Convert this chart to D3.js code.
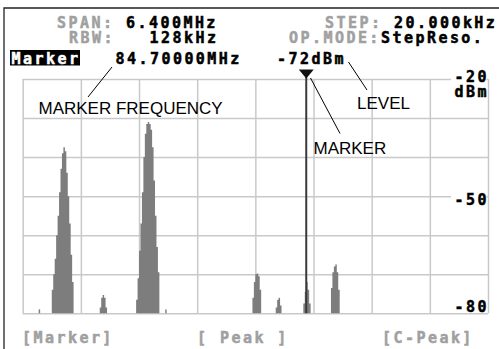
<!DOCTYPE html>
<html><head><meta charset="utf-8">
<script src="https://cdn.jsdelivr.net/npm/d3@7"></script>
<style>
html,body{margin:0;padding:0;background:#fff;}
svg{display:block;}
.lcd{font-family:"DejaVu Sans Mono",monospace;font-weight:bold;font-size:15px;letter-spacing:2.45px;white-space:pre;stroke-width:0.5px;}
.note{font-family:"Liberation Sans",Arial,sans-serif;font-size:17px;fill:#000;}
</style></head>
<body>
<script>
// ---- data ----
const centerMHz = 84.0;
const spanMHz = 6.4;
const stepMHz = 0.02;
const markerMHz = 84.7;
const markerLevel = -72;
const levelDomain = [-80, -20];
const levelGrid = [-20, -30, -40, -50, -60, -70, -80];
const levelLabels = [-20, -50, -80];
const freqGrid = [80.8, 81.6, 82.4, 83.2, 84.0, 84.8, 85.6, 86.4, 87.2];
const traceFreqs = [
  81.02,
  81.20, 81.22, 81.24, 81.26, 81.28, 81.30, 81.32, 81.34, 81.36, 81.38, 81.40, 81.42, 81.44, 81.46, 81.48,
  81.86, 81.88, 81.90, 81.92, 81.94,
  82.36, 82.38, 82.40, 82.42, 82.44, 82.46, 82.48, 82.50, 82.52, 82.54, 82.56, 82.58, 82.60, 82.62, 82.64, 82.66,
  82.76,
  83.96, 83.98, 84.00, 84.02, 84.04, 84.06,
  84.28, 84.30, 84.32, 84.34,
  84.66, 84.68, 84.70, 84.72, 84.74,
  85.04, 85.06, 85.08, 85.10, 85.12, 85.14
];
const traceLevels = [
  -79,
  -74, -70, -66, -60, -55, -49, -43, -39, -37.5, -38.5, -44, -50, -57, -65, -72,
  -78.5, -76, -75.3, -76, -78.5,
  -76.5, -71, -64, -57, -49, -40, -34, -31.5, -31, -31.5, -33, -37.5, -46, -55, -63, -69.5,
  -79,
  -76, -72, -70, -69.8, -70.5, -74,
  -78.5, -76.5, -76, -78,
  -77.5, -74.5, -72, -74, -77.5,
  -73.5, -69.5, -68, -67.5, -69.5, -74
];

// ---- layout ----
const W = 499, H = 349;
const plot = {l: 22.7, r: 488, t: 79, b: 313.3};
const svg = d3.select("body").append("svg").attr("width", W).attr("height", H);

const x = d3.scaleLinear().domain([centerMHz - spanMHz/2, centerMHz + spanMHz/2]).range([plot.l, plot.r]);
const y = d3.scaleLinear().domain(levelDomain).range([plot.b, plot.t]);

// outer frame
svg.append("path").attr("d", `M4,${H} V8 H${W}`).attr("fill","none").attr("stroke","#222").attr("stroke-width",1.3);

// grid
const grid = svg.append("g");
grid.append("g").attr("transform",`translate(${plot.l},0)`)
  .call(d3.axisLeft(y).tickValues(levelGrid).tickSize(-(plot.r-plot.l)).tickFormat(""))
  .call(g=>g.select(".domain").remove())
  .selectAll("line").attr("stroke","#c9c9c9").attr("stroke-width",1.5);

// trace: group contiguous steps, draw as stepped filled areas
const pts = traceFreqs.map((f,i)=>({f, v: traceLevels[i]}));
const groups = [];
pts.forEach((p,i)=>{
  if (i===0 || Math.abs(p.f - pts[i-1].f - stepMHz) > 1e-6) groups.push([]);
  groups[groups.length-1].push(p);
});
const area = d3.area().x(d=>x(d.f)).y0(y(levelDomain[0])).y1(d=>y(d.v)).curve(d3.curveStepAfter);

// right level labels (white backing)
const lab = svg.append("g").attr("class","lcd").attr("text-anchor","end");
levelLabels.forEach(v=>{
  const yy = v===-20 ? 81.5 : v===-50 ? 205 : 311.5;
  lab.append("rect").attr("x",451).attr("y",yy-11.5).attr("width",35.5).attr("height",v===-20?27:13).attr("fill","#fff").attr("stroke","none");
  lab.append("text").attr("x",489).attr("y",yy).attr("fill","#000").attr("stroke","#000").text(d3.format("d")(v).replace("−","-"));
});
lab.append("text").attr("x",489).attr("y",96.5).attr("fill","#000").attr("stroke","#000").text("dBm");

// vertical grid drawn after label backing so right border stays visible
grid.append("g").attr("transform",`translate(0,${plot.t})`)
  .call(d3.axisTop(x).tickValues(freqGrid).tickSize(-(plot.b-plot.t)).tickFormat(""))
  .call(g=>g.select(".domain").remove())
  .selectAll("line").attr("stroke","#c9c9c9").attr("stroke-width",1.5);
svg.node().appendChild(lab.node());

svg.append("g").selectAll("path").data(groups).join("path")
  .attr("d", g=>area(g.concat([{f: g[g.length-1].f + stepMHz, v: g[g.length-1].v}])))
  .attr("fill","#7d7d7d");

// marker line + triangle
const mx = x(markerMHz);
svg.append("line").attr("x1",mx).attr("x2",mx).attr("y1",76).attr("y2",plot.b)
  .attr("stroke","#3a3a3a").attr("stroke-width",2);
svg.append("path").attr("d",`M${mx-7.5},69.5 H${mx+7.5} L${mx},78.5 Z`).attr("fill","#111");

// header LCD texts
const gray = "#a0a0a0";
const hdr = svg.append("g").attr("class","lcd");
function t(xp, yp, s, col){ hdr.append("text").attr("x",xp).attr("y",yp).attr("fill",col).attr("stroke",col).text(s); }
t(57, 28, "SPAN:", gray); t(126, 28, "6.400MHz", "#000");
t(69, 43, "RBW:", gray);  t(149.5, 43, "128kHz", "#000");
hdr.append("rect").attr("x",10).attr("y",50).attr("width",70).attr("height",15.5).attr("fill","#000").attr("stroke","none");
t(11.5, 63.5, "Marker", "#fff");
t(115.5, 63.5, "84.70000MHz", "#000");
t(325, 28, "STEP:", gray); t(394, 28, "20.000kHz", "#000");
t(289, 43, "OP.MODE:", gray); t(381, 43, "StepReso.", "#000");
t(277, 63.5, `${markerLevel}dBm`, "#000");

// bottom soft keys
t(22, 343, "[Marker]", gray);
t(197, 343, "[ Peak ]", gray);
t(382, 343, "[C-Peak]", gray);

// annotations
const ann = svg.append("g");
ann.append("text").attr("class","note").attr("x",38.5).attr("y",114).text("MARKER FREQUENCY");
ann.append("text").attr("class","note").attr("x",357).attr("y",108.5).text("LEVEL");
ann.append("text").attr("class","note").attr("x",313.5).attr("y",153.5).text("MARKER");
ann.append("line").attr("x1",88).attr("y1",97).attr("x2",112).attr("y2",67).attr("stroke","#000").attr("stroke-width",1);
ann.append("line").attr("x1",348.5).attr("y1",62).attr("x2",367).attr("y2",90).attr("stroke","#000").attr("stroke-width",1);
ann.append("line").attr("x1",310.5).attr("y1",78).attr("x2",340).attr("y2",133.5).attr("stroke","#000").attr("stroke-width",1);
</script>
</body></html>
